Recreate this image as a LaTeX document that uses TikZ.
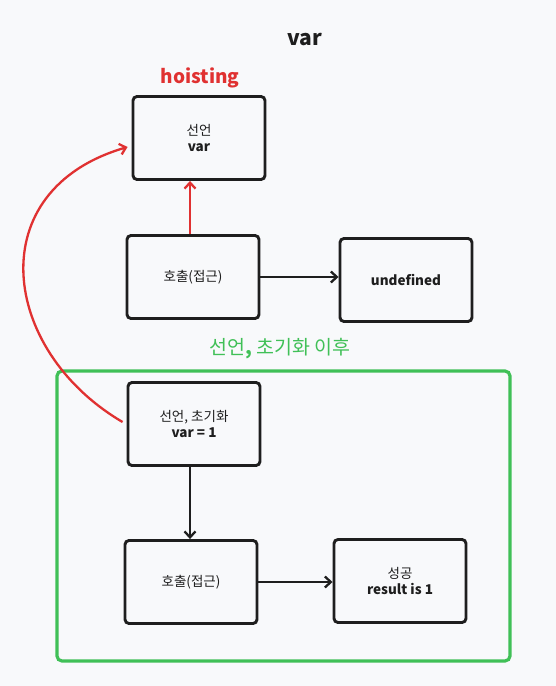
\documentclass[tikz,border=0pt]{standalone}
\usepackage{fontspec}
\setmainfont{Noto Sans CJK KR}
\usetikzlibrary{arrows.meta}
\definecolor{bg}{HTML}{F8F9FB}
\definecolor{ink}{HTML}{1E1E1E}
\definecolor{hred}{HTML}{E03131}
\definecolor{hgreen}{HTML}{40C057}
\tikzset{
  box/.style={draw=ink, line width=2.9pt, rounded corners=4pt, minimum width=132pt, minimum height=83pt, align=center, font=\fontsize{13.5}{17}\selectfont, text=ink, inner sep=0pt},
  conn/.style={draw=ink, line width=2.3pt, -{Straight Barb[length=6pt,width=11pt]}},
  hconn/.style={draw=hred, line width=2.3pt, -{Straight Barb[length=6pt,width=11pt]}}
}
\begin{document}
\begin{tikzpicture}[x=1pt,y=-1pt]
\fill[bg] (0,0) rectangle (556,686);
\useasboundingbox (0,0) rectangle (556,686);
\node[font=\fontsize{21}{24}\selectfont\bfseries, text=ink] (title) at (305,40) {var};
\node[font=\fontsize{19}{22}\selectfont\bfseries, text=hred] (hoist) at (200,78) {hoisting};
\node[box] (decl) at (199,138) {선언\\[-1pt]\textbf{var}};
\node[box] (call1) at (193,277) {호출(접근)};
\node[box] (undef) at (406,280) {\textbf{undefined}};
\node[font=\fontsize{19.5}{22}\selectfont, text=hgreen] (glabel) at (280,349) {선언\textbf{,} 초기화 이후};
\node[draw=hgreen, line width=3.2pt, rounded corners=5pt, minimum width=453pt, minimum height=290pt, inner sep=0pt] (frame) at (283.5,516) {};
\node[box] (init) at (194,424) {선언, 초기화\\[-1pt]\textbf{var = 1}};
\node[box] (call2) at (191,582) {호출(접근)};
\node[box] (ok) at (400,581) {성공\\[-1pt]\textbf{result is 1}};
\draw[hconn] (call1.north -| decl.south) ++(-9,0) coordinate (hs) -- (hs |- decl.south);
\draw[conn] (call1.east) -- (call1.east -| undef.west);
\draw[conn] (init.south) ++(-4,0) coordinate (is) -- (is |- call2.north);
\draw[conn] (call2.east) -- (call2.east -| ok.west);
\draw[hconn] (init.west) ++(-4,-2) coordinate (cs) .. controls (0,350) and (-20,190) .. ([xshift=-4pt,yshift=-9pt]decl.west);
\end{tikzpicture}
\end{document}
